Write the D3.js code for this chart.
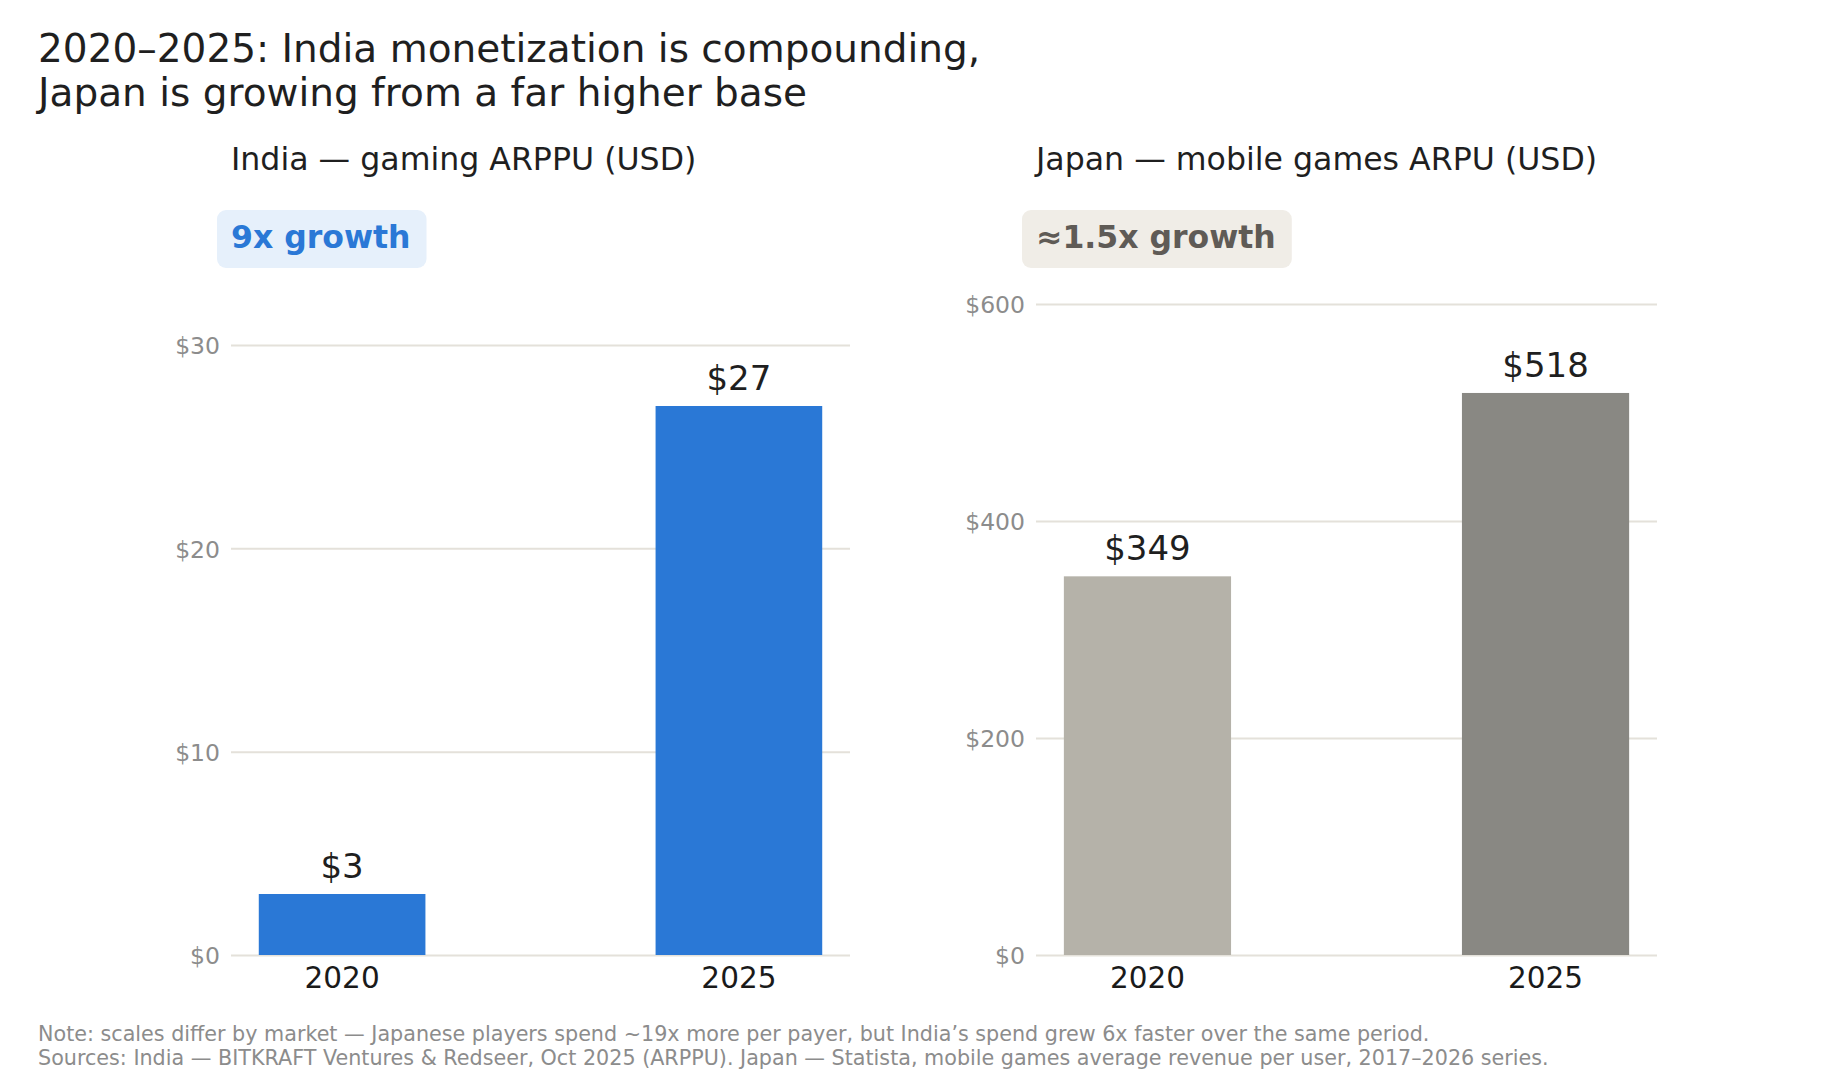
<!DOCTYPE html>
<html>
<head>
<meta charset="utf-8">
<script src="https://cdn.jsdelivr.net/npm/d3@7"></script>
<style>
  body { margin: 0; background: #fff; }
  svg text { font-family: "DejaVu Sans", sans-serif; }
</style>
</head>
<body>
<div id="chart"></div>
<script>
// data
const years = ["2020", "2025"];
const indiaValues = [3, 27];
const japanValues = [349, 518];
const indiaTicks = [0, 10, 20, 30];
const japanTicks = [0, 200, 400, 600];
const indiaColors = ["#2a78d6", "#2a78d6"];
const japanColors = ["#b5b2a9", "#898883"];

const W = 1840, H = 1086;
const svg = d3.select("#chart").append("svg")
    .attr("width", W)
    .attr("height", H);

// Main title
const title = svg.append("text")
    .attr("x", 38)
    .attr("y", 62)
    .attr("fill", "#1f1f1f")
    .style("font-size", "39px");
title.append("tspan").attr("x", 38).text("2020–2025: India monetization is compounding,");
title.append("tspan").attr("x", 38).attr("dy", 44).text("Japan is growing from a far higher base");

// one panel per market
function drawPanel(opts) {
    const g = svg.append("g");

    const x = d3.scaleBand()
        .domain(years)
        .range([opts.left, opts.right])
        .paddingInner(0.58)
        .paddingOuter(0.07);

    const y = d3.scaleLinear()
        .domain([0, opts.ticks[opts.ticks.length - 1]])
        .range([955, opts.topY]);

    // subplot title
    g.append("text")
        .attr("x", opts.left)
        .attr("y", 170)
        .attr("fill", "#1f1f1f")
        .style("font-size", "31.6px")
        .text(opts.title);

    // growth badge
    const badge = g.append("g");
    const bt = badge.append("text")
        .attr("x", opts.left)
        .attr("y", 248)
        .attr("fill", opts.badgeText)
        .style("font-size", "31.5px")
        .style("font-weight", "bold")
        .text(opts.badge);
    const bw = bt.node().getComputedTextLength();
    badge.insert("rect", "text")
        .attr("x", opts.left - 14)
        .attr("y", 210)
        .attr("width", bw + 30)
        .attr("height", 58)
        .attr("rx", 9)
        .attr("fill", opts.badgeFill);

    // y axis: grid lines + labels
    const yAxis = d3.axisLeft(y)
        .tickValues(opts.ticks)
        .tickSize(-(opts.right - opts.left))
        .tickPadding(11)
        .tickFormat(d => "$" + d);

    const ax = g.append("g")
        .attr("transform", `translate(${opts.left},0)`)
        .call(yAxis);
    ax.select(".domain").remove();
    ax.selectAll(".tick line")
        .attr("stroke", "#e4e1da")
        .attr("stroke-width", 2);
    ax.selectAll(".tick text")
        .attr("fill", "#8c8c8c")
        .attr("dy", "0.38em")
        .style("font-size", "23.5px")
        .style("font-family", "DejaVu Sans, sans-serif");

    // bars
    g.selectAll("rect.bar")
        .data(opts.values)
        .join("rect")
        .attr("class", "bar")
        .attr("x", (d, i) => x(years[i]))
        .attr("width", x.bandwidth())
        .attr("y", d => y(d))
        .attr("height", d => y(0) - y(d))
        .attr("fill", (d, i) => opts.colors[i]);

    // value labels
    g.selectAll("text.val")
        .data(opts.values)
        .join("text")
        .attr("class", "val")
        .attr("x", (d, i) => x(years[i]) + x.bandwidth() / 2)
        .attr("y", d => y(d) - 16)
        .attr("text-anchor", "middle")
        .attr("fill", "#1f1f1f")
        .style("font-size", "34px")
        .text(d => "$" + d);

    // year labels
    const xAxis = d3.axisBottom(x).tickSize(0).tickPadding(0);
    const xa = g.append("g")
        .attr("transform", "translate(0,955)")
        .call(xAxis);
    xa.select(".domain").remove();
    xa.selectAll(".tick text")
        .attr("y", 33)
        .attr("dy", 0)
        .attr("fill", "#1a1a1a")
        .style("font-size", "29.5px")
        .style("font-family", "DejaVu Sans, sans-serif");
}

drawPanel({
    left: 231, right: 850, topY: 345,
    values: indiaValues, ticks: indiaTicks, colors: indiaColors,
    title: "India — gaming ARPPU (USD)",
    badge: "9x growth", badgeText: "#2a78d6", badgeFill: "#e6f0fb"
});

drawPanel({
    left: 1036, right: 1657, topY: 304,
    values: japanValues, ticks: japanTicks, colors: japanColors,
    title: "Japan — mobile games ARPU (USD)",
    badge: "≈1.5x growth", badgeText: "#5f5b56", badgeFill: "#f0ede7"
});

// Footnotes
const foot = svg.append("text")
    .attr("x", 38)
    .attr("y", 1041)
    .attr("fill", "#8c8c8c")
    .style("font-size", "20.7px");
foot.append("tspan").attr("x", 38)
    .text("Note: scales differ by market — Japanese players spend ~19x more per payer, but India’s spend grew 6x faster over the same period.");
foot.append("tspan").attr("x", 38).attr("dy", 24)
    .text("Sources: India — BITKRAFT Ventures & Redseer, Oct 2025 (ARPPU). Japan — Statista, mobile games average revenue per user, 2017–2026 series.");
</script>
</body>
</html>
